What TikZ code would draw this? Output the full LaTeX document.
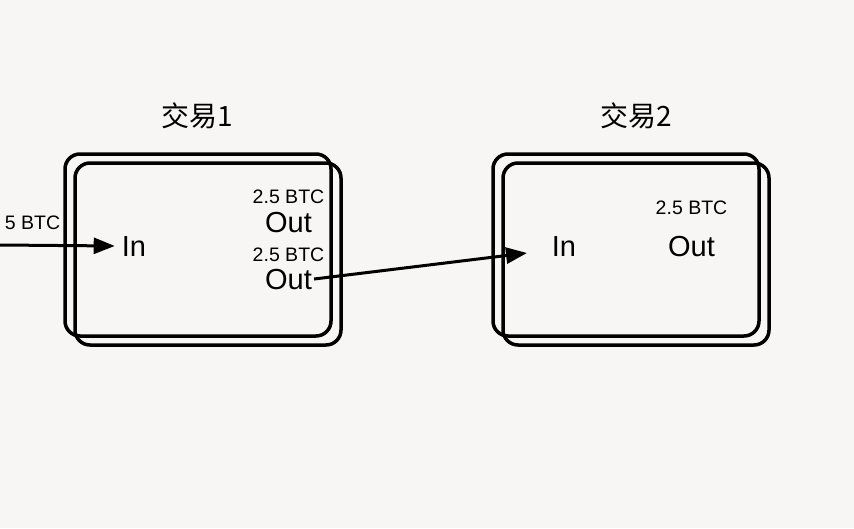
\documentclass[tikz,border=0pt]{standalone}
\usepackage{fontspec}
\setmainfont{Liberation Sans}
\newfontfamily\cjk{Noto Sans CJK SC}
\usepackage{tikz}
\usetikzlibrary{arrows.meta,positioning}
\definecolor{paper}{RGB}{247,246,244}
\tikzset{txbox/.style={draw,line width=3.5pt,rounded corners=15pt,minimum width=266pt,minimum height=182pt},
  txtitle/.style={font=\cjk\fontsize{28}{30}\selectfont,anchor=base},
  port/.style={font=\fontsize{29}{32}\selectfont,anchor=base,inner sep=2pt},
  amount/.style={font=\fontsize{19.5}{21}\selectfont,anchor=base,inner sep=1pt}}

\begin{document}
\begin{tikzpicture}[x=1pt,y=-1pt,>={Triangle[length=21pt,width=16pt]}]
    \fill[paper] (0,0) rectangle (854,528);
    \useasboundingbox (0,0) rectangle (854,528);

    % transaction 1
    \foreach \i/\dx/\dy in {a/0/0,b/10/9} {
      \node[txbox] (box1\i) at (198+\dx,245+\dy) {};
    }
    \node[txtitle] (title1) at (197,126) {交易1};
    \node[port] (in1) at (134,256) {In};
    \node[amount] (amt11) at (288.5,203) {2.5 BTC};
    \node[port] (out11) at (288.5,232) {Out};
    \node[amount] (amt12) at (288.5,261) {2.5 BTC};
    \node[port] (out12) at (288.5,289) {Out};

    % transaction 2
    \foreach \i/\dx/\dy in {a/0/0,b/10/9} {
      \node[txbox] (box2\i) at (626+\dx,245+\dy) {};
    }
    \node[txtitle] (title2) at (636,126) {交易2};
    \node[port] (in2) at (564,256) {In};
    \node[amount] (amt21) at (691.5,214) {2.5 BTC};
    \node[port] (out21) at (691.5,256) {Out};

    % spending
    \coordinate (src) at (0,245);
    \coordinate (tip2) at (527,253);
    \node[amount] (amt0) at (32.5,229) {5 BTC};
    \draw[->,line width=3pt,shorten >=5pt] (src) -- (in1.west);
    \draw[->,line width=3pt] (out12.east) -- (tip2);
\end{tikzpicture}
\end{document}
